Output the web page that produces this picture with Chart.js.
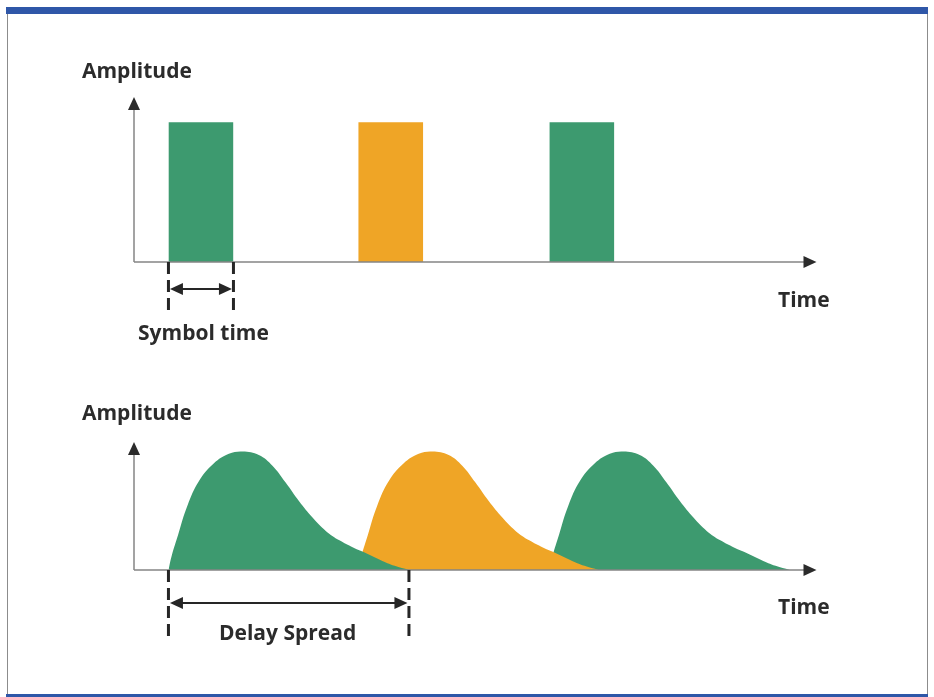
<!DOCTYPE html>
<html>
<head>
<meta charset="utf-8">
<script src="https://cdn.jsdelivr.net/npm/chart.js@4.4.1/dist/chart.umd.min.js"></script>
<style>
  body { margin: 0; background: #fff; }
  #wrap { position: relative; width: 934px; height: 697px; overflow: hidden; background: #fff; }
  canvas { position: absolute; left: 0; }
  .frame { position: absolute; left: 7px; top: 7px; width: 919px; height: 690px;
           border-left: 1.5px solid #8c8c8c; border-right: 1.5px solid #8c8c8c; }
  .band { position: absolute; left: 6px; width: 922px; background: #2f57a8; }
  .lbl { position: absolute; font-family: "Open Sans", sans-serif; font-weight: 700;
         font-size: 21px; line-height: 21px; color: #2b2b2b; white-space: nowrap; }
</style>
</head>
<body>
<div id="wrap">
  <div class="frame"></div>
  <div class="band" style="top:7px;height:7px"></div>
  <div class="band" style="top:694px;height:3px"></div>
  <canvas id="symbolChart" width="934" height="360" style="top:0"></canvas>
  <canvas id="spreadChart" width="934" height="337" style="top:360px"></canvas>
  <div class="lbl" style="left:82px;top:60px">Amplitude</div>
  <div class="lbl" style="left:778px;top:289px">Time</div>
  <div class="lbl" style="left:138px;top:322px">Symbol time</div>
  <div class="lbl" style="left:82px;top:402px">Amplitude</div>
  <div class="lbl" style="left:778px;top:596px">Time</div>
  <div class="lbl" style="left:219px;top:622px">Delay Spread</div>
</div>
<script>
// time in tenths of a symbol time, amplitude normalised to 1
const symbolStarts = [5.3, 34.5, 63.9];
const symbolWidth = 10;
const symbolColors = ['#3d9a6f', '#efa526', '#3d9a6f'];

// received pulse shape (offset from symbol start)
const pulseOffsets = [0, 0.5, 1.5, 2.9, 4.7, 7.0, 9.3, 11.4, 13.9, 16.0, 18.0, 20.1, 22.2, 24.2, 26.3, 28.4, 30.5, 32.6, 34.8, 37.0];
const pulseAmps = [0, 0.12, 0.30, 0.54, 0.75, 0.90, 0.98, 1.0, 0.97, 0.88, 0.74, 0.58, 0.44, 0.33, 0.25, 0.19, 0.14, 0.085, 0.035, 0];

const timeMax = 105;

function rectPoints(start) {
    return [
        {x: start, y: 0}, {x: start, y: 1},
        {x: start + symbolWidth, y: 1}, {x: start + symbolWidth, y: 0}
    ];
}

function pulsePoints(start) {
    return pulseOffsets.map((o, i) => ({x: start + o, y: pulseAmps[i]}));
}

function arrowHead(ctx, x, y, dir) {
    const len = 13, half = 6;
    ctx.beginPath();
    if (dir === 'right') {
        ctx.moveTo(x, y); ctx.lineTo(x - len, y - half); ctx.lineTo(x - len, y + half);
    } else if (dir === 'left') {
        ctx.moveTo(x, y); ctx.lineTo(x + len, y - half); ctx.lineTo(x + len, y + half);
    } else {
        ctx.moveTo(x, y); ctx.lineTo(x - half, y + len); ctx.lineTo(x + half, y + len);
    }
    ctx.closePath();
    ctx.fill();
}

const axisArrows = {
    id: 'axisArrows',
    afterDatasetsDraw(chart, args, opts) {
        const ctx = chart.ctx;
        const a = chart.chartArea;
        ctx.save();
        ctx.strokeStyle = '#858585';
        ctx.fillStyle = '#2b2b2b';
        ctx.lineWidth = 1.5;
        ctx.beginPath();
        ctx.moveTo(a.left, a.bottom);
        ctx.lineTo(a.right - 10, a.bottom);
        ctx.moveTo(a.left, a.bottom);
        ctx.lineTo(a.left, a.top + 10);
        ctx.stroke();
        arrowHead(ctx, a.right, a.bottom, 'right');
        arrowHead(ctx, a.left, a.top, 'up');

        // span marker under the axis
        const x1 = chart.scales.x.getPixelForValue(opts.from);
        const x2 = chart.scales.x.getPixelForValue(opts.to);
        ctx.strokeStyle = '#262626';
        ctx.lineWidth = 3;
        ctx.setLineDash([12, 6]);
        ctx.beginPath();
        ctx.moveTo(x1, a.bottom); ctx.lineTo(x1, a.bottom + opts.drop);
        ctx.moveTo(x2, a.bottom); ctx.lineTo(x2, a.bottom + opts.drop);
        ctx.stroke();
        ctx.setLineDash([]);
        const ay = a.bottom + opts.arrowAt;
        ctx.lineWidth = 2;
        ctx.beginPath();
        ctx.moveTo(x1 + 8, ay); ctx.lineTo(x2 - 8, ay);
        ctx.stroke();
        ctx.fillStyle = '#262626';
        arrowHead(ctx, x1 + 1.5, ay, 'left');
        arrowHead(ctx, x2 - 1.5, ay, 'right');
        ctx.restore();
    }
};

function baseOptions(yMax, pad, marker) {
    return {
        responsive: false,
        animation: false,
        devicePixelRatio: 1,
        layout: {padding: pad},
        elements: {point: {radius: 0}},
        scales: {
            x: {type: 'linear', min: 0, max: timeMax, display: false},
            y: {min: 0, max: yMax, display: false}
        },
        plugins: {
            legend: {display: false},
            tooltip: {enabled: false},
            axisArrows: marker
        }
    };
}

new Chart(document.getElementById('symbolChart'), {
    type: 'line',
    data: {
        datasets: symbolStarts.map((s, i) => ({
            data: rectPoints(s),
            borderWidth: 0,
            tension: 0,
            fill: 'origin',
            backgroundColor: symbolColors[i]
        }))
    },
    options: baseOptions(1.18, {left: 134, right: 934 - 134 - timeMax * 6.5, top: 97, bottom: 98},
        {from: symbolStarts[0], to: symbolStarts[0] + symbolWidth, drop: 50, arrowAt: 27}),
    plugins: [axisArrows]
});

new Chart(document.getElementById('spreadChart'), {
    type: 'line',
    data: {
        datasets: symbolStarts.map((s, i) => ({
            data: pulsePoints(s),
            borderWidth: 0,
            tension: 0.4,
            fill: 'origin',
            backgroundColor: symbolColors[i]
        }))
    },
    options: baseOptions(1.08, {left: 134, right: 934 - 134 - timeMax * 6.5, top: 82, bottom: 127},
        {from: symbolStarts[0], to: symbolStarts[0] + pulseOffsets[pulseOffsets.length - 1], drop: 70, arrowAt: 33}),
    plugins: [axisArrows]
});
</script>
</body>
</html>
